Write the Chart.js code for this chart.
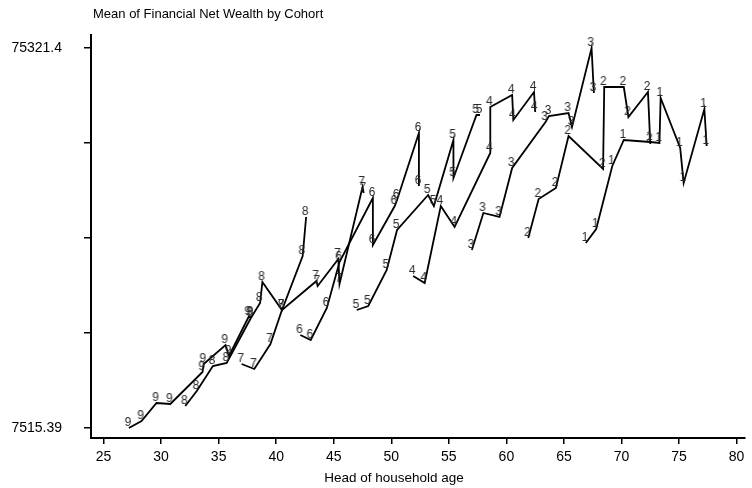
<!DOCTYPE html>
<html lang="en">
<head>
    <meta charset="UTF-8">
    <title>Mean of Financial Net Wealth by Cohort</title>
    <script src="https://cdn.jsdelivr.net/npm/chart.js"></script>
    <style>
        body, html {
            margin: 0;
            padding: 0;
            background: #fff;
        }
        .chart-container {
            width: 752px;
            height: 488px;
        }
    </style>
</head>
<body>
    <div class="chart-container">
        <canvas id="cohortChart"></canvas>
    </div>
    <script>
        // cohort data: head of household age vs mean financial net wealth
        const cohortNames = ['1', '2', '3', '4', '5', '6', '7', '8', '9'];

        const age1 = [66.9, 67.8, 69.2, 70.2, 72.5, 73.3, 73.4, 75.1, 75.4, 77.2, 77.4];
        const wealth1 = [40527, 43025, 54266, 58906, 58549, 58371, 66400, 57478, 51233, 64437, 57835];

        const age2 = [61.9, 62.8, 64.3, 65.4, 68.4, 68.5, 70.2, 70.6, 72.3, 72.5];
        const wealth2 = [41419, 48378, 50341, 59620, 53731, 68364, 68364, 63010, 67471, 58192];

        const age3 = [57.0, 58.0, 59.4, 60.5, 63.4, 63.7, 65.4, 65.7, 67.4, 67.6];
        const wealth3 = [39278, 45880, 45166, 53910, 62118, 63189, 63724, 61226, 75321.4, 67293];

        const age4 = [51.9, 52.9, 54.3, 55.5, 58.6, 58.6, 60.5, 60.6, 62.4, 62.5];
        const wealth4 = [34638, 33389, 47129, 43382, 56586, 64795, 66936, 62475, 67471, 63902];

        const age5 = [47.0, 48.0, 49.6, 50.5, 53.2, 53.7, 55.4, 55.4, 57.4, 57.7];
        const wealth5 = [28571, 29285, 35709, 42847, 49092, 47129, 58906, 52125, 63367, 63367];

        const age6 = [42.1, 43.0, 44.4, 45.5, 48.4, 48.4, 50.3, 50.5, 52.4, 52.4];
        const wealth6 = [24110, 23218, 28928, 37137, 48556, 40170, 47129, 48200, 60155, 50698];

        const age7 = [37.0, 38.1, 39.5, 40.5, 43.5, 43.6, 45.4, 45.5, 47.5, 47.6];
        const wealth7 = [18936, 18043, 22504, 28571, 33746, 32854, 37672, 33211, 50519, 49448];

        const age8 = [32.1, 33.1, 34.5, 35.7, 37.8, 38.6, 38.8, 40.5, 42.3, 42.6];
        const wealth8 = [11441, 14118, 18579, 19114, 27144, 29820, 33568, 28571, 38207, 45166];

        const age9 = [27.2, 28.3, 29.6, 30.8, 33.6, 33.7, 35.6, 35.9, 37.6, 37.8];
        const wealth9 = [7515.39, 8764, 11976, 11798, 17508, 18936, 22326, 20363, 27322, 27322];

        const xTicks = [25, 30, 35, 40, 45, 50, 55, 60, 65, 70, 75, 80];
        const yTicks = [7515.39, 24466.9, 41418.4, 58369.9, 75321.4];
        const yTickLabels = ['7515.39', '', '', '', '75321.4'];

        const chartTitle = 'Mean of Financial Net Wealth by Cohort';
        const xTitle = 'Head of household age';

        const fontFamily = '"Liberation Sans", Arial, sans-serif';

        const ages = [age1, age2, age3, age4, age5, age6, age7, age8, age9];
        const wealths = [wealth1, wealth2, wealth3, wealth4, wealth5, wealth6, wealth7, wealth8, wealth9];

        // the cohort number is used as the marker
        function digitMarker(d) {
            const c = document.createElement('canvas');
            c.width = 14;
            c.height = 22;
            const g = c.getContext('2d');
            g.font = '12px ' + fontFamily;
            g.fillStyle = '#2a2a2a';
            g.textAlign = 'center';
            g.textBaseline = 'middle';
            g.fillText(d, 6, 6);
            return c;
        }

        const datasets = cohortNames.map((name, i) => ({
            label: name,
            data: ages[i].map((a, j) => ({ x: a, y: wealths[i][j] })),
            borderColor: '#000',
            borderWidth: 1.8,
            tension: 0,
            fill: false,
            pointStyle: digitMarker(name),
            pointRadius: 4,
            clip: false
        }));

        const textPlugin = {
            id: 'stataText',
            afterDraw(chart) {
                const ctx = chart.ctx;
                ctx.save();
                ctx.fillStyle = '#000';
                ctx.font = '13px ' + fontFamily;
                ctx.textBaseline = 'middle';
                ctx.textAlign = 'left';
                ctx.fillText(chartTitle, chart.chartArea.left + 2, 14);
                ctx.font = '13.5px ' + fontFamily;
                ctx.textAlign = 'center';
                ctx.fillText(xTitle, 394, 478);
                ctx.restore();
            }
        };

        const ctx = document.getElementById('cohortChart').getContext('2d');

        new Chart(ctx, {
            type: 'line',
            data: { datasets: datasets },
            plugins: [textPlugin],
            options: {
                responsive: true,
                maintainAspectRatio: false,
                animation: false,
                events: [],
                layout: { padding: { left: 0, right: 7, top: 35, bottom: 0 } },
                plugins: {
                    legend: { display: false },
                    tooltip: { enabled: false }
                },
                scales: {
                    x: {
                        type: 'linear',
                        min: 23.91,
                        max: 80.73,
                        afterBuildTicks: s => { s.ticks = xTicks.map(v => ({ value: v })); },
                        afterFit: s => { s.height = 50; },
                        grid: { drawOnChartArea: false, drawTicks: true, tickLength: 6, color: '#000', lineWidth: 1.5 },
                        border: { display: true, color: '#000', width: 2 },
                        ticks: {
                            color: '#000',
                            font: { family: fontFamily, size: 14 },
                            padding: 5,
                            maxRotation: 0,
                            autoSkip: false
                        }
                    },
                    y: {
                        type: 'linear',
                        min: 5731,
                        max: 77641,
                        afterBuildTicks: s => { s.ticks = yTicks.map(v => ({ value: v })); },
                        afterFit: s => { s.width = 91; },
                        grid: { drawOnChartArea: false, drawTicks: true, tickLength: 7, color: '#000', lineWidth: 1.5 },
                        border: { display: true, color: '#000', width: 2 },
                        ticks: {
                            color: '#000',
                            font: { family: fontFamily, size: 14 },
                            padding: 22,
                            callback: (v, i) => yTickLabels[i]
                        }
                    }
                }
            }
        });
    </script>
</body>
</html>
